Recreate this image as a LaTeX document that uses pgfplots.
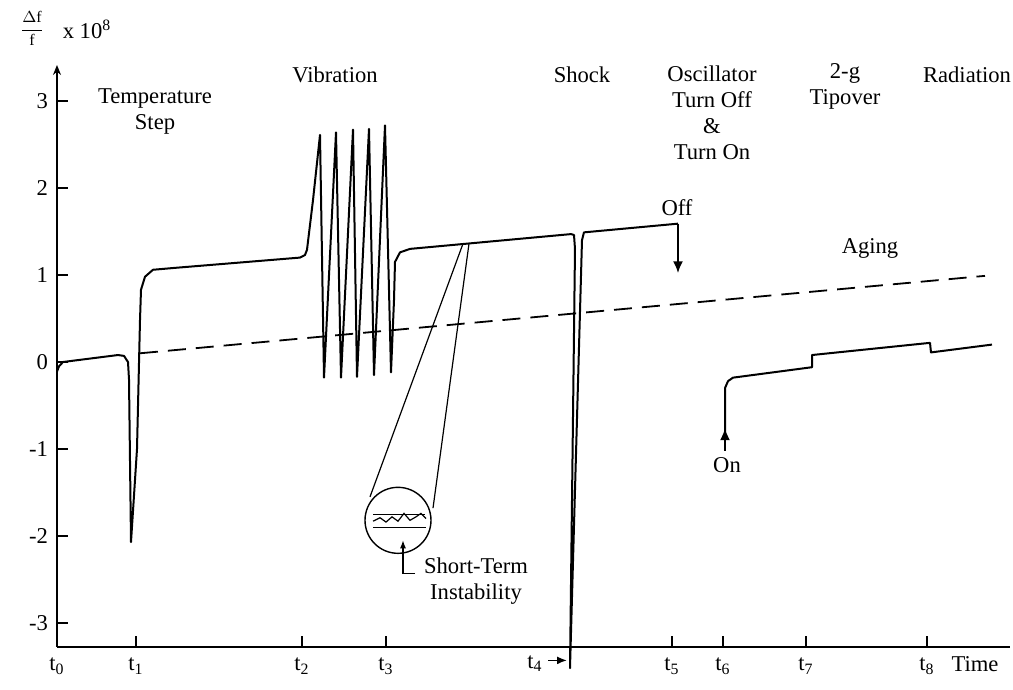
\documentclass[border=0pt]{standalone}
\usepackage{fontspec}
\setmainfont{Liberation Serif}
\usepackage{pgfplots}
\pgfplotsset{compat=1.18}
\usetikzlibrary{arrows.meta}

\begin{document}
\begin{tikzpicture}[font=\fontsize{11.3pt}{13pt}\selectfont]
\begin{axis}[
  scale only axis, width=476.5pt, height=291pt,
  xmin=0, xmax=953, ymin=-3.2759, ymax=3.4138,
  axis lines=left,
  axis line style={line width=0.9pt},
  y axis line style={-{Stealth[length=5pt,width=4pt]}},
  x axis line style={-},
  clip=false,
  xtick={0,79,245,329,615,666,749,870},
  xticklabels={t\textsubscript{0},t\textsubscript{1},t\textsubscript{2},t\textsubscript{3},t\textsubscript{5},t\textsubscript{6},t\textsubscript{7},t\textsubscript{8}},
  ytick={-3,-2,-1,0,1,2,3},
  yticklabels={-3,-2,-1,0,1,2,3},
  tick align=inside,
  major tick length=5.5pt,
  tick style={line width=0.8pt, black},
  xticklabel style={yshift=-2pt},
  yticklabel style={xshift=-1pt},
]
% main record: t0 through shock and turn-off
\addplot[black, line width=1pt, line join=round] coordinates {
 (0,-0.11) (2,-0.05) (6,0) (61,0.08) (67,0.07) (71,0.0) (72,-0.2) (74,-2.07)
 (80,-1.0) (83,0.48) (84,0.83) (88,0.98) (96,1.06) (116,1.08) (243,1.20)
 (248,1.23) (250,1.29) (256,1.86) (263,2.61) (267,-0.18) (279,2.64) (284,-0.18)
 (296,2.67) (300,-0.17) (312,2.68) (317,-0.15) (328,2.72) (334,-0.12)
 (337,0.71) (338,1.15) (343,1.26) (353,1.30) (514,1.47) (517,1.46) (518,1.3)
 (513,-3.52) (525,1.40) (527,1.49) (621,1.59)
};
% off arrow
\addplot[black, line width=1pt, -{Latex[length=6pt,width=5pt]}] coordinates {(621,1.59) (621,1.02)};
% on arrow
\addplot[black, line width=1pt, -{Latex[length=6pt,width=5pt]}] coordinates {(668,-1.02) (668,-0.76)};
% after turn on
\addplot[black, line width=1pt, line join=round] coordinates {
 (668,-0.80) (668,-0.30) (671,-0.22) (676,-0.18) (755,-0.06) (755,0.08)
 (873,0.22) (874,0.11) (935,0.20)
};
% aging
\addplot[black, line width=0.9pt, dash pattern=on 9pt off 5pt] coordinates {(83,0.10) (928,0.99)};
% short-term instability inset
\draw[black, line width=0.7pt] (axis cs:341,-1.82) circle[radius=16.5pt];
\addplot[black, line width=0.6pt] coordinates {(313,-1.55) (406,1.36)};
\addplot[black, line width=0.6pt] coordinates {(376,-1.68) (412,1.36)};
\addplot[black, line width=0.6pt] coordinates {(316,-1.75) (368,-1.75)};
\addplot[black, line width=0.6pt] coordinates {(316,-1.90) (369,-1.90)};
\addplot[black, line width=0.6pt] coordinates {
 (316,-1.83) (323,-1.79) (329,-1.84) (335,-1.78) (341,-1.83) (347,-1.74)
 (353,-1.82) (359,-1.78) (364,-1.74) (369,-1.80)
};
\addplot[black, line width=0.6pt, -{Latex[length=4pt,width=3pt]}] coordinates {(358,-2.43) (346,-2.43) (346,-2.05)};
% labels
\node at (axis cs:-25,3.83) {\footnotesize$\displaystyle\frac{\Delta\mathrm{f}}{\mathrm{f}}$};
\node at (axis cs:30,3.82) {x 10\textsuperscript{8}};
\node[align=center] at (axis cs:98,2.88) {Temperature\\Step};
\node at (axis cs:278,3.30) {Vibration};
\node at (axis cs:525,3.30) {Shock};
\node[align=center] at (axis cs:655,2.86) {Oscillator\\Turn Off\\\&\\Turn On};
\node[align=center] at (axis cs:788,3.17) {2-g\\Tipover};
\node at (axis cs:910,3.30) {Radiation};
\node at (axis cs:620,1.77) {Off};
\node at (axis cs:813,1.31) {Aging};
\node at (axis cs:670,-1.18) {On};
\node[align=center] at (axis cs:419,-2.52) {Short-Term\\Instability};
\node at (axis cs:918,-3.47) {Time};
\node at (axis cs:478,-3.47) {t\textsubscript{4}};
\draw[black, line width=0.8pt, -{Latex[length=5pt,width=4pt]}] (axis cs:491,-3.43) -- (axis cs:510,-3.43);
\end{axis}
\pgfresetboundingbox
\path (current axis.south west) ++(-28.5pt,-21.5pt) rectangle ++(506.5pt,345pt);
\end{tikzpicture}
\end{document}
